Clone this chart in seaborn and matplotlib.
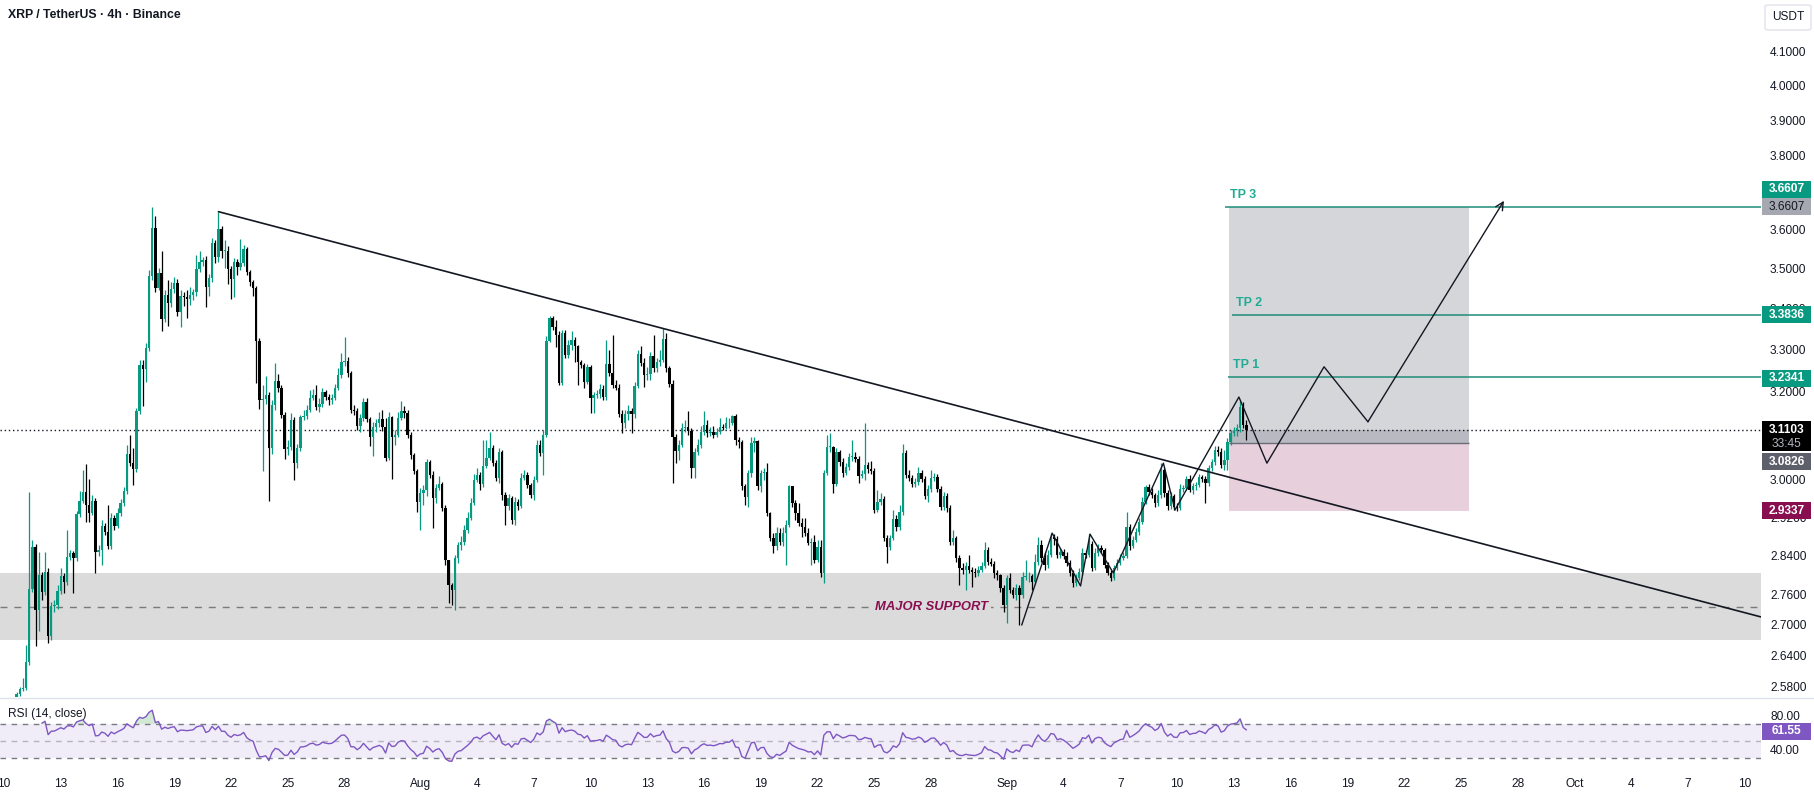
import matplotlib
matplotlib.use("Agg")
import numpy as np
import pandas as pd
import matplotlib.pyplot as plt
import matplotlib.dates as mdates
from matplotlib.ticker import FixedLocator, FormatStrFormatter, NullLocator
from matplotlib.patches import Rectangle, FancyBboxPatch
from matplotlib.lines import Line2D
import seaborn as sns

sns.set_theme(style="white")
plt.rcParams['font.family'] = ['Liberation Sans', 'DejaVu Sans']

# ---------------- data ----------------
title = "XRP / TetherUS \u00b7 4h \u00b7 Binance"
first_time = "2025-07-10 16:00"
open0 = 2.556
closes = [
 2.567,2.576,2.578,2.627,2.771,2.857,2.729,2.799,2.765,2.806,
 2.678,2.737,2.739,2.767,2.797,2.785,2.836,2.845,2.834,2.927,
 2.955,2.974,2.946,2.929,2.955,2.847,2.851,2.901,2.889,2.859,
 2.918,2.901,2.929,2.950,2.976,3.057,3.038,3.024,3.155,3.262,
 3.253,3.303,3.481,3.605,3.451,3.489,3.374,3.433,3.413,3.448,
 3.464,3.391,3.431,3.428,3.423,3.433,3.441,3.499,3.517,3.522,
 3.453,3.476,3.566,3.530,3.603,3.545,3.545,3.499,3.474,3.517,
 3.504,3.515,3.550,3.492,3.466,3.451,3.320,3.180,3.183,3.192,
 3.071,3.169,3.225,3.208,3.146,3.069,3.073,3.134,3.038,3.071,
 3.141,3.143,3.157,3.185,3.192,3.164,3.171,3.199,3.187,3.180,
 3.185,3.208,3.239,3.270,3.272,3.243,3.157,3.155,3.120,3.139,
 3.176,3.137,3.096,3.118,3.127,3.137,3.118,3.049,3.141,3.096,
 3.100,3.139,3.155,3.150,3.100,3.055,3.020,2.952,2.972,2.978,
 3.040,3.011,2.961,2.983,2.991,2.940,2.830,2.779,2.769,2.834,
 2.861,2.868,2.893,2.918,2.950,3.000,3.011,2.991,3.031,3.049,
 3.071,3.038,3.004,3.062,2.967,2.944,2.961,2.914,2.952,2.944,
 3.004,3.011,2.989,2.967,3.000,3.078,3.060,3.100,3.320,3.376,
 3.354,3.335,3.220,3.340,3.286,3.310,3.322,3.308,3.270,3.262,
 3.222,3.258,3.185,3.192,3.194,3.206,3.187,3.265,3.243,3.215,
 3.208,3.148,3.127,3.148,3.155,3.148,3.213,3.289,3.267,3.239,
 3.241,3.284,3.255,3.270,3.274,3.325,3.255,3.218,3.096,3.064,
 3.078,3.116,3.118,3.109,3.026,3.062,3.078,3.107,3.123,3.104,
 3.107,3.100,3.107,3.118,3.116,3.127,3.127,3.143,3.089,3.084,
 2.987,2.963,3.015,3.082,3.087,2.987,3.015,3.018,2.929,2.876,
 2.859,2.887,2.868,2.887,2.903,2.987,2.950,2.929,2.908,2.899,
 2.887,2.866,2.868,2.830,2.857,2.804,3.015,3.073,3.073,2.991,
 3.062,3.040,3.015,3.029,3.051,3.051,3.046,3.009,3.013,3.033,
 3.024,3.020,2.935,2.952,2.959,2.876,2.857,2.876,2.916,2.899,
 2.931,3.060,3.011,3.004,2.991,2.996,3.015,3.002,2.965,2.981,
 3.004,3.007,2.981,2.942,2.965,2.940,2.868,2.876,2.834,2.814,
 2.810,2.818,2.810,2.806,2.804,2.810,2.818,2.851,2.826,2.822,
 2.804,2.799,2.773,2.739,2.793,2.769,2.759,2.773,2.759,2.795,
 2.797,2.797,2.785,2.826,2.861,2.834,2.820,2.840,2.878,2.874,
 2.840,2.847,2.838,2.824,2.804,2.783,2.793,2.806,2.845,2.840,
 2.863,2.814,2.845,2.855,2.851,2.820,2.804,2.793,2.814,2.824,
 2.834,2.838,2.899,2.859,2.872,2.889,2.910,2.952,2.985,2.974,
 2.967,2.950,2.967,3.022,2.972,2.944,2.965,2.942,2.940,2.981,
 2.983,3.002,2.978,2.987,2.989,3.007,3.002,2.994,3.026,3.040,
 3.066,3.062,3.033,3.044,3.084,3.104,3.109,3.116,3.164,3.123,
 3.1103]
highs = [
 2.571,2.580,2.597,2.660,2.974,2.872,2.863,2.847,2.806,2.847,
 2.814,2.745,2.749,2.779,2.814,2.803,2.893,2.851,2.849,2.933,
 2.976,3.022,3.035,3.002,2.967,2.961,2.861,2.914,2.908,2.946,
 2.929,2.925,2.940,2.959,2.985,3.078,3.100,3.071,3.162,3.274,
 3.274,3.315,3.497,3.660,3.637,3.502,3.545,3.446,3.471,3.466,
 3.479,3.474,3.446,3.441,3.446,3.453,3.448,3.535,3.545,3.530,
 3.532,3.486,3.579,3.574,3.648,3.611,3.574,3.558,3.507,3.527,
 3.525,3.576,3.561,3.556,3.497,3.471,3.456,3.327,3.215,3.236,
 3.199,3.180,3.267,3.241,3.215,3.153,3.089,3.150,3.141,3.080,
 3.146,3.157,3.169,3.204,3.206,3.215,3.185,3.208,3.204,3.194,
 3.194,3.218,3.255,3.291,3.330,3.282,3.248,3.169,3.162,3.148,
 3.185,3.185,3.141,3.130,3.137,3.153,3.157,3.139,3.153,3.143,
 3.111,3.153,3.178,3.166,3.157,3.107,3.060,3.024,2.983,2.989,
 3.046,3.044,3.020,2.991,3.009,2.996,2.946,2.830,2.783,2.840,
 2.868,2.880,2.903,2.931,2.961,3.013,3.026,3.018,3.089,3.089,
 3.107,3.078,3.044,3.071,3.066,2.974,2.970,2.965,2.963,2.959,
 3.015,3.022,3.018,2.994,3.009,3.089,3.089,3.111,3.332,3.381,
 3.381,3.371,3.345,3.347,3.347,3.322,3.345,3.330,3.310,3.274,
 3.267,3.265,3.262,3.199,3.204,3.218,3.215,3.322,3.298,3.335,
 3.227,3.218,3.157,3.157,3.169,3.162,3.222,3.298,3.308,3.279,
 3.258,3.293,3.335,3.279,3.298,3.352,3.340,3.260,3.227,3.102,
 3.089,3.127,3.134,3.155,3.116,3.071,3.091,3.120,3.155,3.134,
 3.118,3.120,3.116,3.139,3.125,3.141,3.139,3.146,3.148,3.096,
 3.089,2.991,3.022,3.096,3.096,3.089,3.022,3.026,3.038,2.931,
 2.887,2.899,2.897,2.899,2.914,2.989,2.987,2.957,2.950,2.918,
 2.918,2.897,2.876,2.882,2.872,2.872,3.022,3.100,3.104,3.075,
 3.071,3.066,3.049,3.038,3.060,3.089,3.062,3.053,3.022,3.127,
 3.040,3.042,3.026,2.978,2.972,2.965,2.882,2.882,2.935,2.925,
 2.946,3.080,3.066,3.022,3.011,3.004,3.029,3.022,3.009,2.989,
 3.022,3.015,3.013,2.987,2.974,2.972,2.946,2.893,2.880,2.840,
 2.824,2.826,2.840,2.816,2.814,2.818,2.826,2.868,2.857,2.834,
 2.828,2.810,2.801,2.779,2.799,2.803,2.775,2.781,2.779,2.806,
 2.830,2.806,2.801,2.842,2.878,2.872,2.847,2.851,2.887,2.884,
 2.880,2.855,2.853,2.847,2.830,2.810,2.801,2.814,2.855,2.851,
 2.884,2.870,2.855,2.863,2.861,2.855,2.826,2.810,2.820,2.832,
 2.842,2.847,2.931,2.905,2.880,2.897,2.918,2.963,2.989,2.991,
 2.983,2.972,2.978,3.038,3.026,2.978,2.974,2.970,2.950,2.991,
 2.989,3.009,3.011,2.994,2.996,3.013,3.011,3.009,3.033,3.046,
 3.075,3.075,3.071,3.066,3.093,3.111,3.118,3.125,3.180,3.176,
 3.134]
lows = [
 2.557,2.563,2.572,2.574,2.621,2.765,2.658,2.687,2.749,2.759,
 2.664,2.670,2.725,2.731,2.761,2.763,2.779,2.830,2.763,2.828,
 2.920,2.950,2.910,2.910,2.925,2.804,2.838,2.820,2.882,2.853,
 2.853,2.893,2.897,2.923,2.944,2.970,3.031,2.989,3.018,3.148,
 3.166,3.222,3.296,3.471,3.441,3.446,3.345,3.366,3.357,3.403,
 3.438,3.381,3.354,3.406,3.376,3.408,3.421,3.431,3.492,3.507,
 3.403,3.431,3.466,3.515,3.517,3.527,3.502,3.461,3.423,3.428,
 3.484,3.497,3.507,3.484,3.456,3.431,3.220,3.159,3.020,3.171,
 2.955,3.057,3.157,3.199,3.139,3.046,3.055,3.066,3.000,3.026,
 3.064,3.134,3.137,3.153,3.180,3.157,3.153,3.164,3.180,3.169,
 3.171,3.180,3.204,3.232,3.260,3.234,3.150,3.146,3.111,3.107,
 3.132,3.130,3.075,3.053,3.107,3.118,3.109,3.042,3.044,3.002,
 3.078,3.096,3.134,3.139,3.093,3.046,3.013,2.931,2.893,2.946,
 2.966,3.004,2.897,2.950,2.978,2.933,2.820,2.743,2.739,2.729,
 2.824,2.851,2.861,2.887,2.914,2.946,2.996,2.978,2.985,3.026,
 3.044,3.031,2.998,2.994,2.957,2.903,2.935,2.906,2.903,2.935,
 2.940,3.000,2.983,2.961,2.957,2.996,3.053,3.011,3.096,3.318,
 3.347,3.306,3.215,3.215,3.279,3.279,3.298,3.270,3.215,3.255,
 3.208,3.218,3.150,3.150,3.185,3.185,3.180,3.180,3.236,3.208,
 3.204,3.141,3.104,3.116,3.134,3.104,3.139,3.208,3.260,3.211,
 3.227,3.227,3.246,3.246,3.260,3.270,3.246,3.211,2.994,3.038,
 3.044,3.073,3.107,3.100,3.004,3.004,3.055,3.071,3.100,3.096,
 3.098,3.093,3.096,3.102,3.111,3.113,3.116,3.123,3.078,3.071,
 2.978,2.946,2.942,3.007,3.062,2.978,2.974,3.000,2.923,2.870,
 2.845,2.851,2.861,2.859,2.820,2.899,2.942,2.914,2.901,2.878,
 2.880,2.861,2.820,2.824,2.826,2.795,2.783,3.011,3.062,2.972,
 2.987,3.031,3.007,3.011,3.022,3.042,3.040,2.994,3.004,3.000,
 3.015,3.013,2.929,2.931,2.946,2.870,2.824,2.851,2.872,2.891,
 2.893,2.925,3.004,2.998,2.985,2.985,2.989,2.996,2.959,2.952,
 2.974,2.998,2.974,2.935,2.935,2.931,2.861,2.861,2.826,2.779,
 2.801,2.769,2.803,2.775,2.795,2.797,2.806,2.814,2.820,2.818,
 2.793,2.789,2.765,2.725,2.703,2.763,2.753,2.749,2.699,2.753,
 2.789,2.785,2.769,2.781,2.820,2.826,2.810,2.814,2.836,2.861,
 2.834,2.834,2.832,2.818,2.797,2.775,2.777,2.789,2.799,2.834,
 2.836,2.808,2.810,2.838,2.845,2.814,2.799,2.787,2.789,2.810,
 2.820,2.830,2.834,2.851,2.855,2.868,2.882,2.905,2.948,2.967,
 2.961,2.942,2.944,2.961,2.963,2.935,2.937,2.935,2.933,2.935,
 2.974,2.978,2.974,2.970,2.978,2.985,2.996,2.950,2.987,3.020,
 3.033,3.053,3.026,3.022,3.022,3.078,3.098,3.098,3.107,3.116,
 3.089]

price_ticks = [2.58, 2.64, 2.70, 2.76, 2.84, 2.92, 3.0, 3.2, 3.3, 3.4,
               3.5, 3.6, 3.8, 3.9, 4.0, 4.1]
rsi_ticks = [40, 80]
x_tick_dates = ["2025-07-10", "2025-07-13", "2025-07-16", "2025-07-19", "2025-07-22",
                "2025-07-25", "2025-07-28", "2025-08-01", "2025-08-04", "2025-08-07",
                "2025-08-10", "2025-08-13", "2025-08-16", "2025-08-19", "2025-08-22",
                "2025-08-25", "2025-08-28", "2025-09-01", "2025-09-04", "2025-09-07",
                "2025-09-10", "2025-09-13", "2025-09-16", "2025-09-19", "2025-09-22",
                "2025-09-25", "2025-09-28", "2025-10-01", "2025-10-04", "2025-10-07",
                "2025-10-10"]
x_tick_labels = ["10", "13", "16", "19", "22", "25", "28", "Aug", "4", "7", "10", "13",
                 "16", "19", "22", "25", "28", "Sep", "4", "7", "10", "13", "16", "19",
                 "22", "25", "28", "Oct", "4", "7", "10"]

support_low, support_high, support_mid = 2.6698, 2.8035, 2.735
support_label = "MAJOR SUPPORT"
support_label_time = "2025-08-28 01:10"

trend_times = ["2025-07-21 08:00", "2025-10-10 20:45"]
trend_prices = [3.648, 2.715]

zz_times = ["2025-09-01 19:00", "2025-09-03 09:36", "2025-09-04 21:36", "2025-09-05 09:36",
            "2025-09-06 15:07", "2025-09-09 06:43", "2025-09-09 21:22", "2025-09-13 06:29",
            "2025-09-14 18:00", "2025-09-17 18:29", "2025-09-20 02:10", "2025-09-27 06:43"]
zz_prices = [2.699, 2.886, 2.777, 2.884, 2.8035, 3.037, 2.935, 3.187, 3.037, 3.258,
             3.130, 3.677]

box_start, box_end = "2025-09-12 18:00", "2025-09-25 10:20"
entry_price, stop_price, target_price = 3.0826, 2.9337, 3.6607
last_price = 3.1103
countdown = "33:45"
rsi_last_label = 61.55

tp_names = ["TP 1", "TP 2", "TP 3"]
tp_prices = [3.2341, 3.3836, 3.6607]
tp_line_start = ["2025-09-12 16:35", "2025-09-12 21:36", "2025-09-12 12:45"]
tp_label_time = ["2025-09-12 23:00", "2025-09-13 02:50", "2025-09-12 19:10"]

# ---------------- styling ----------------
UP, DOWN = "#089981", "#000000"
TEXT = "#131722"
W, H = 1815, 796

fig = plt.figure(figsize=(W / 100, H / 100), dpi=100)
fig.patch.set_facecolor("white")
ax = fig.add_axes([0, 1 - 697 / H, 1761 / W, 697 / H])
ax2 = fig.add_axes([0, 1 - 770 / H, 1761 / W, 71 / H], sharex=ax)
for a in (ax, ax2):
    a.set_facecolor("white")
    for s in a.spines.values():
        s.set_visible(False)

times = pd.date_range(first_time, periods=len(closes), freq="4h")
df = pd.DataFrame({"time": times, "open": [open0] + closes[:-1], "high": highs,
                   "low": lows, "close": closes})
x = mdates.date2num(df["time"])
up = (df["close"] >= df["open"]).values
col = np.where(up, UP, DOWN)

t0 = mdates.date2num(pd.Timestamp("2025-07-10"))
xlim = (t0 - 0.2114, t0 + 92.865)

# support zone
ax.axhspan(support_low, support_high, color="#DBDBDB", lw=0, zorder=0.5)
ax.axhline(support_mid, color="#7A7A7A", lw=1, ls=(0, (5, 5)), zorder=0.6)
ax.text(mdates.date2num(pd.Timestamp(support_label_time)), support_mid, support_label,
        ha="center", va="center", color="#880E4F", fontsize=9.4, fontweight="bold",
        fontstyle="italic", zorder=0.7,
        bbox=dict(facecolor="#DBDBDB", edgecolor="none", pad=1.5))

# position box
bx0 = mdates.date2num(pd.Timestamp(box_start))
bx1 = mdates.date2num(pd.Timestamp(box_end))
ax.fill_between([bx0, bx1], entry_price, target_price, color="#D5D6DA", lw=0, zorder=1)
ax.fill_between([bx0, bx1], stop_price, entry_price, color="#E8CFDC", lw=0, zorder=1)
ax.fill_between([bx0, bx1], entry_price, last_price, color="#B9BAC1", lw=0, zorder=1.1)
ax.hlines(entry_price, bx0, bx1, color="#6A6D78", lw=1, zorder=1.2)

# TP lines
for name, p, ls, lt in zip(tp_names, tp_prices, tp_line_start, tp_label_time):
    ax.hlines(p, mdates.date2num(pd.Timestamp(ls)), xlim[1], color="#1E8C78", lw=1.1, zorder=2)
    ax.annotate(name, (mdates.date2num(pd.Timestamp(lt)), p), xytext=(0, 4),
                textcoords="offset points", color="#22AB94", fontsize=9,
                fontweight="bold", va="bottom", ha="left", zorder=2)

# candles
ax.vlines(x, df["low"], df["high"], colors=col, lw=0.9, zorder=3)
body_lo = np.minimum(df["open"], df["close"]).values
body_h = np.maximum(np.abs(df["close"] - df["open"]).values, 0.0012)
ax.bar(x, body_h, bottom=body_lo, width=0.125, color=col, lw=0, zorder=4)

# current price line
ax.axhline(last_price, color=TEXT, lw=1, ls=(0, (1, 2)), zorder=2.5)

# trend line
ax.plot(mdates.date2num(pd.to_datetime(trend_times)), trend_prices, color="#131722",
        lw=1.2, zorder=5)

# zigzag projection
zx = mdates.date2num(pd.to_datetime(zz_times))
ax.plot(zx[:-1], zz_prices[:-1], color="#131722", lw=1.0, zorder=5)
ax.annotate("", xy=(zx[-1], zz_prices[-1]), xytext=(zx[-2], zz_prices[-2]),
            arrowprops=dict(arrowstyle="->", color="#131722", lw=1.0,
                            shrinkA=0, shrinkB=0, mutation_scale=14), zorder=5)

ax.set_yscale("log")
ax.set_xlim(*xlim)
ax.set_ylim(2.5611, 4.2565)
ax.yaxis.set_major_locator(FixedLocator(price_ticks))
ax.yaxis.set_minor_locator(NullLocator())
ax.yaxis.set_major_formatter(FormatStrFormatter("%.4f"))
ax.yaxis.tick_right()
ax.tick_params(axis="y", length=0, pad=6.5, labelsize=8.6, labelcolor=TEXT)
ax.tick_params(axis="x", bottom=False, labelbottom=False)
ax.grid(False)

# RSI pane
delta = df["close"].diff()
gain = delta.clip(lower=0)
loss = -delta.clip(upper=0)
ag = gain.ewm(alpha=1 / 14, adjust=False, min_periods=8).mean()
al = loss.ewm(alpha=1 / 14, adjust=False, min_periods=8).mean()
rsi = (100 - 100 / (1 + ag / al)).values

ax2.axhspan(30, 70, color="#7E57C2", alpha=0.1, lw=0, zorder=0.5)
ax2.axhline(70, color="#787B86", lw=1, ls=(0, (4, 4)))
ax2.axhline(50, color="#787B86", lw=1, ls=(0, (4, 4)), alpha=0.5)
ax2.axhline(30, color="#787B86", lw=1, ls=(0, (4, 4)))
ok = ~np.isnan(rsi)
ax2.fill_between(x[ok], rsi[ok], 70, where=rsi[ok] > 70, interpolate=True,
                 color="#4CAF50", alpha=0.25, lw=0)
ax2.fill_between(x[ok], rsi[ok], 30, where=rsi[ok] < 30, interpolate=True,
                 color="#F23645", alpha=0.25, lw=0)
sns.lineplot(x=x[ok], y=rsi[ok], ax=ax2, color="#7E57C2", lw=1)
ax2.set_ylim(15.9, 99.4)
ax2.set_xlim(*xlim)
ax2.set_ylabel("")
ax2.yaxis.tick_right()
ax2.yaxis.set_major_locator(FixedLocator(rsi_ticks))
ax2.yaxis.set_major_formatter(FormatStrFormatter("%.2f"))
ax2.tick_params(axis="y", length=0, pad=6.5, labelsize=8.6, labelcolor=TEXT)
ax2.set_xticks(mdates.date2num(pd.to_datetime(x_tick_dates)))
ax2.set_xticklabels(x_tick_labels)
ax2.tick_params(axis="x", length=0, pad=6, labelsize=8.6, labelcolor=TEXT, bottom=True,
                labelbottom=True)
ax2.grid(False)

# pane separator
fig.add_artist(Line2D([0, 1], [1 - 698 / H] * 2, transform=fig.transFigure,
                      color="#E0E3EB", lw=1))

# price-scale tags
def tag(axis, value, text, fc, tc="white", dy=0, h=17, bold=True):
    ypx = axis.transData.transform((xlim[0], value))[1] + dy
    fig.add_artist(Rectangle((1762 / W, (ypx - h / 2) / H), 49 / W, h / H,
                             transform=fig.transFigure, fc=fc, ec="none", zorder=20))
    fig.text(1786.5 / W, ypx / H, text, ha="center", va="center", color=tc,
             fontsize=8.6, fontweight="bold" if bold else "normal", zorder=21)

tag(ax, target_price, f"{target_price:.4f}", "#089981", dy=17.5)
tag(ax, target_price, f"{target_price:.4f}", "#A5A8B0", tc=TEXT, bold=False)
tag(ax, tp_prices[1], f"{tp_prices[1]:.4f}", "#089981")
tag(ax, tp_prices[0], f"{tp_prices[0]:.4f}", "#089981", dy=-1.5)
tag(ax, entry_price, f"{entry_price:.4f}", "#5D606B", dy=-19)
tag(ax, stop_price, f"{stop_price:.4f}", "#880E4F")
tag(ax2, rsi_last_label, f"{rsi_last_label:.2f}", "#7E57C2")

# last price tag with countdown
ylp = ax.transData.transform((xlim[0], last_price))[1]
fig.add_artist(Rectangle((1762 / W, (ylp - 21) / H), 49 / W, 30 / H,
                         transform=fig.transFigure, fc="#000000", ec="none", zorder=20))
fig.text(1786.5 / W, ylp / H, f"{last_price:.4f}", ha="center", va="center",
         color="white", fontsize=8.6, fontweight="bold", zorder=21)
fig.text(1786.5 / W, (ylp - 14) / H, countdown, ha="center", va="center",
         color="#B2B5BE", fontsize=8.6, zorder=21)

# currency box
fig.add_artist(FancyBboxPatch((1765 / W, 1 - 30 / H), 46 / W, 25 / H,
                              boxstyle="round,pad=0,rounding_size=0.002",
                              transform=fig.transFigure, fc="white", ec="#E0E3EB",
                              lw=1, zorder=20))
fig.text(1788 / W, 1 - 17.5 / H, "USDT", ha="center", va="center", color=TEXT,
         fontsize=8.6, zorder=21)

# titles
fig.text(8 / W, 1 - 15 / H, title, ha="left", va="center", color=TEXT, fontsize=8.8,
         fontweight="bold")
fig.text(8 / W, 1 - 714 / H, "RSI (14, close)", ha="left", va="center", color=TEXT,
         fontsize=8.6)

fig.savefig("out.png", dpi=100, facecolor="white")
